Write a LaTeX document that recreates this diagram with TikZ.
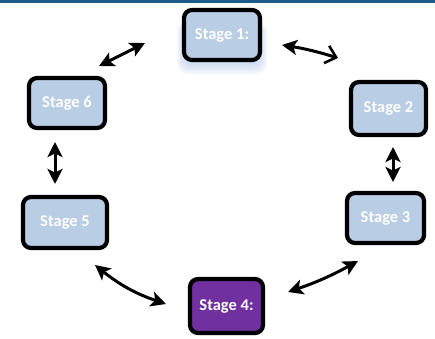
\documentclass[tikz,border=0pt]{standalone}
\usepackage{fontspec}
\setmainfont{Carlito}
\usetikzlibrary{arrows.meta}
\definecolor{boxblue}{HTML}{B9CDE5}
\definecolor{stagepurple}{HTML}{7030A0}
\definecolor{topbar}{HTML}{1F5A8C}
\definecolor{glowblue}{HTML}{8FAADC}
\tikzset{
  stagebox/.style={draw=black, line width=4.2pt, rounded corners=8pt, fill=boxblue,
    text=white, font=\bfseries\fontsize{16.5}{19}\selectfont, inner sep=0pt},
  link/.style={line width=3pt, {Stealth[length=15pt,width=15pt,inset=3.5pt]}-{Stealth[length=15pt,width=15pt,inset=3.5pt]}},
}
\begin{document}
\begin{tikzpicture}[x=1pt,y=-1pt]
\useasboundingbox (0,0) rectangle (435,338);
\fill[topbar] (0,0) rectangle (435,2.5);
% glow under Stage 1
\foreach \r in {1,...,9}{
  \fill[glowblue, opacity=0.07, rounded corners=10pt] (186-\r,22) rectangle (258+\r,60+1.6*\r);
}
\node[stagebox, minimum width=76pt, minimum height=50pt] (s1) at (222,35) {Stage 1:};
\node[stagebox, minimum width=75pt, minimum height=53pt] (s2) at (388.5,108.5) {Stage 2};
\node[stagebox, minimum width=77pt, minimum height=50pt] (s3) at (385.5,218) {Stage 3};
\node[stagebox, minimum width=73pt, minimum height=54pt, fill=stagepurple] (s4) at (226.5,306) {Stage 4:};
\node[stagebox, minimum width=84pt, minimum height=51pt] (s5) at (65,222.5) {Stage 5};
\node[stagebox, minimum width=76pt, minimum height=50pt] (s6) at (67,103) {Stage 6};
% arrow end points
\coordinate (a16) at (145,43);  \coordinate (a61) at (99,66);
\coordinate (a12) at (282,45);  \coordinate (a21) at (338,58);
\coordinate (a23) at (393,147); \coordinate (a32) at (393,182);
\coordinate (a34) at (358,261); \coordinate (a43) at (288,292);
\coordinate (a45) at (166,304); \coordinate (a54) at (95,265);
\coordinate (a56) at (55,184);  \coordinate (a65) at (55,142);
\draw[link] (a61) -- (a16);
\draw[line width=3pt, {Stealth[length=15pt,width=15pt,inset=3.5pt]}-{Straight Barb[length=10pt,width=18pt,line width=2.6pt]}] (a12) to[bend left=4] (a21);
\draw[link] (a23) -- (a32);
\draw[link] (a43) to[bend right=5] (a34);
\draw[link] (a54) to[bend right=10] (a45);
\draw[link] (a65) -- (a56);
\end{tikzpicture}
\end{document}
